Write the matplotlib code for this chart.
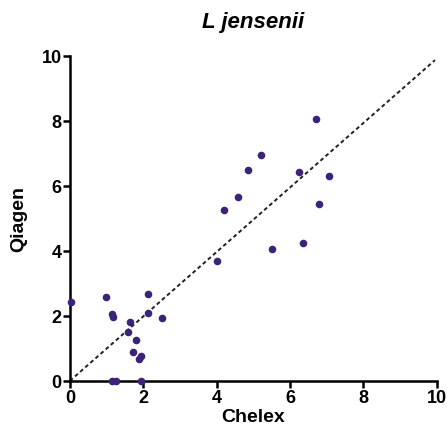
import matplotlib
matplotlib.use("Agg")
import matplotlib.pyplot as plt

chelex = [0.02, 0.98, 1.14, 1.18, 1.65, 1.59, 1.81, 1.71, 1.93, 1.87, 2.12, 2.12, 2.51,
          1.14, 1.25, 1.95, 4.01, 4.20, 4.59, 4.85, 5.22, 5.51, 6.25, 6.36, 6.70, 6.78, 7.05]
qiagen = [2.44, 2.59, 2.06, 1.95, 1.81, 1.51, 1.25, 0.89, 0.77, 0.67, 2.66, 2.08, 1.93,
          0.0, 0.0, 0.0, 3.68, 5.25, 5.66, 6.50, 6.95, 4.07, 6.42, 4.23, 8.06, 5.43, 6.31]
line_x = [0, 9.95]
line_y = [0, 9.87]
ticks = [0, 2, 4, 6, 8, 10]

plt.rcParams['font.family'] = ['Liberation Sans', 'DejaVu Sans']
fig = plt.figure(figsize=(4.48, 4.31), dpi=100)
ax = fig.add_axes([0.156, 0.114, 0.819, 0.754])
ax.plot(line_x, line_y, linestyle=(0, (2, 1.5)), color='#222222', linewidth=1.4, zorder=2)
ax.scatter(chelex, qiagen, s=30, color='#3a2378', zorder=3, clip_on=False, linewidths=0)
ax.set_xlim(0, 10)
ax.set_ylim(0, 10)
ax.set_xticks(ticks)
ax.set_yticks(ticks)
ax.set_xticklabels([str(t) for t in ticks], fontsize=13, fontweight='bold')
ax.set_yticklabels([str(t) for t in ticks], fontsize=13, fontweight='bold')
for s in ['top', 'right']:
    ax.spines[s].set_visible(False)
for s in ['left', 'bottom']:
    ax.spines[s].set_linewidth(1.8)
ax.tick_params(width=1.8, length=5, pad=1)
ax.set_xlabel('Chelex', fontsize=14, fontweight='bold', labelpad=1)
ax.set_ylabel('Qiagen', fontsize=14, fontweight='bold', labelpad=10)
ax.set_title('L jensenii', fontsize=16, fontweight='bold', style='italic', pad=21)
fig.savefig('out.png', dpi=100)
